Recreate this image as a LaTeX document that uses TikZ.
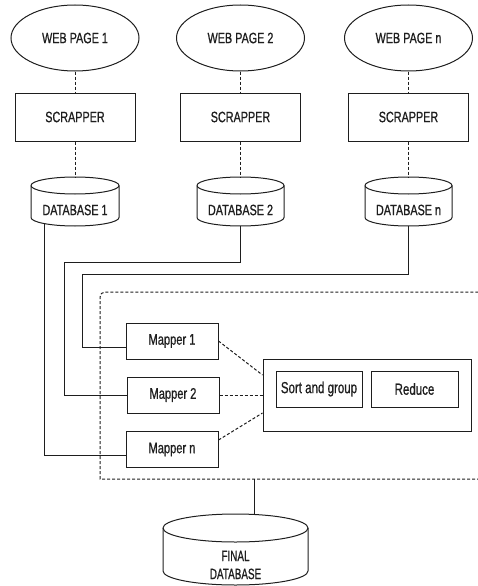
\documentclass[tikz,border=0pt]{standalone}
\usepackage{fontspec}
\setmainfont{Liberation Sans}[FakeStretch=0.72,FakeBold=0.8]
\newfontfamily\tallnarrow{Liberation Sans}[FakeStretch=0.66,FakeBold=0.8]
\usetikzlibrary{shapes.geometric,calc}
\definecolor{ink}{HTML}{1E1E1E}

% cylinder outline: left x, top y, right x, bottom y, cap half-height
\newcommand{\drawcyl}[5]{%
  \draw[cylline] (#1,#2-#5) -- (#1,#4+#5)
    arc[start angle=180,end angle=360,x radius={(#3-#1)/2},y radius=#5]
    -- (#3,#2-#5)
    arc[start angle=0,end angle=180,x radius={(#3-#1)/2},y radius=#5];
  \draw[cylline] (#1,#2-#5)
    arc[start angle=180,end angle=360,x radius={(#3-#1)/2},y radius=#5];
}

\begin{document}
\begin{tikzpicture}[x=1pt,y=1pt,line width=1pt,color=ink,
  every node/.style={text=ink,inner sep=0pt},
  bigfont/.style={font=\fontsize{15}{17}\selectfont},
  mapfont/.style={font=\fontsize{15.4}{18}\selectfont},
  stagefont/.style={font=\fontsize{16}{18}\selectfont},
  page/.style={draw,ellipse,minimum width=128,minimum height=66,bigfont},
  scrapbox/.style={draw,rectangle,minimum width=120,minimum height=48,bigfont},
  dblabel/.style={bigfont},
  mapbox/.style={draw,rectangle,minimum width=92,minimum height=36,mapfont},
  stagebox/.style={draw,rectangle,minimum width=86,minimum height=36,stagefont},
  procbox/.style={draw,rectangle,minimum width=208,minimum height=72},
  cylline/.style={draw=ink},
  link/.style={dash pattern=on 3pt off 2pt},
  wire/.style={}
]
\useasboundingbox (0,0) rectangle (478,-586);
\clip (0,0) rectangle (478,-586);

% web pages
\node[page] (w1) at (75,-38)    {WEB PAGE 1};
\node[page] (w2) at (240.5,-38) {WEB PAGE 2};
\node[page] (wn) at (408.5,-38) {WEB PAGE n};

% scrappers
\node[scrapbox] (s1) at (75,-117)    {SCRAPPER};
\node[scrapbox] (s2) at (240.5,-117) {SCRAPPER};
\node[scrapbox] (sn) at (408.5,-117) {SCRAPPER};

% databases
\drawcyl{31}{-177}{119}{-226}{8.5}
\drawcyl{197}{-177}{284}{-226}{8.5}
\drawcyl{365}{-177}{452}{-226}{8.5}
\node[dblabel] (db1) at (75,-210)    {DATABASE 1};
\node[dblabel] (db2) at (240.5,-210) {DATABASE 2};
\node[dblabel] (dbn) at (408.5,-210) {DATABASE n};
\coordinate (db1top) at (75,-177);
\coordinate (db2top) at (240.5,-177);
\coordinate (dbntop) at (408.5,-177);
\coordinate (db1out) at (44,-224);
\coordinate (db2out) at (240.5,-226);
\coordinate (dbnout) at (408.5,-226);

\draw[link] (w1.south) -- (s1.north);
\draw[link] (w2.south) -- (s2.north);
\draw[link] (wn.south) -- (sn.north);
\draw[link] (s1.south) -- (db1top);
\draw[link] (s2.south) -- (db2top);
\draw[link] (sn.south) -- (dbntop);

% map-reduce stage frame (open to the right)
\draw[link] (485,-479) -- (100,-479) -- (100,-297)
  arc[start angle=180,end angle=90,radius=5] -- (485,-292);
\coordinate (frameout) at (254,-479);

% mappers
\node[mapbox] (m1) at (172,-341)   {Mapper 1};
\node[mapbox] (m2) at (173,-395)   {Mapper 2};
\node[mapbox] (mn) at (172,-449.5) {Mapper n};

% sort / reduce
\node[procbox] (proc) at (367,-395) {};
\node[stagebox] (sg) at (319,-389)   {Sort and group};
\node[stagebox,minimum width=87] (rd) at (414.5,-389) {Reduce};

% database to mapper wiring
\draw[wire] (db1out) |- ($(mn.west)+(0,-5.5)$);
\draw[wire] (db2out) -- (240.5,-262) -- (64,-262) |- (m2.west);
\draw[wire] (dbnout) -- (408.5,-274) -- (82,-274) |- ($(m1.west)+(0,-6)$);

% mapper outputs
\draw[link] (m1.east) -- ($(proc.west)+(0,20)$);
\draw[link] (m2.east) -- (proc.west);
\draw[link] ($(mn.east)+(0,9.5)$) -- ($(proc.west)+(0,-18)$);

% final database
\drawcyl{163}{-514}{308}{-585}{14}
\node[font=\tallnarrow\fontsize{15}{18}\selectfont,align=center] (fdb) at (235.5,-565) {FINAL\\DATABASE};
\coordinate (fdbtop) at (254,-514.5);
\draw[wire] (frameout) -- (fdbtop);
\end{tikzpicture}
\end{document}
